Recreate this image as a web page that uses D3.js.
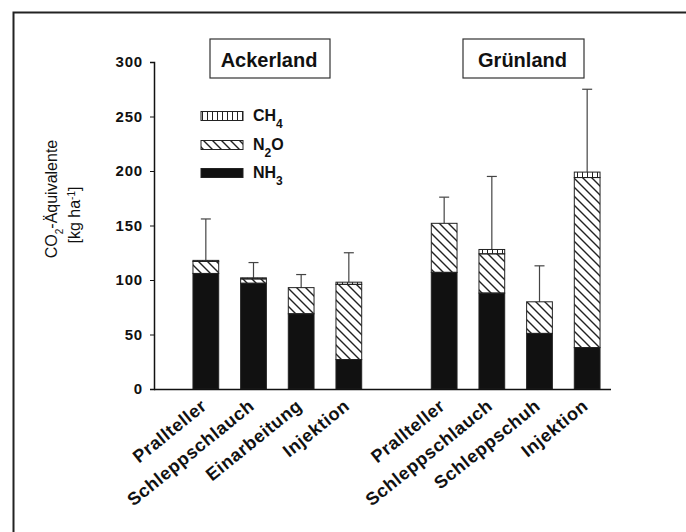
<!DOCTYPE html>
<html>
<head>
    <meta charset="utf-8" />
    <title>CO2-Äquivalente</title>
    <style>
        body { margin: 0; background-color: white; }
        text { font-family: "Liberation Sans", Arial, sans-serif; font-weight: bold; fill: #111; }
    </style>
    <script src="https://cdnjs.cloudflare.com/ajax/libs/d3/7.8.5/d3.min.js"></script>
</head>
<body>
    <script>
        // slot "gap" separates the two groups
        var slots = ['A1', 'A2', 'A3', 'A4', 'gap', 'G1', 'G2', 'G3', 'G4'];
        var keys = ['A1', 'A2', 'A3', 'A4', 'G1', 'G2', 'G3', 'G4'];
        var labels = ['Prallteller', 'Schleppschlauch', 'Einarbeitung', 'Injektion',
                      'Prallteller', 'Schleppschlauch', 'Schleppschuh', 'Injektion'];
        var nh3 = [106, 97, 69, 27, 107, 88, 51, 38];
        var n2o = [11, 4, 24, 69, 45, 36, 29, 156];
        var ch4 = [1, 1, 0, 2, 0, 4, 0, 5];
        var errTop = [156, 116, 105, 125, 176, 195, 113, 275];
        var yTicks = [0, 50, 100, 150, 200, 250, 300];

        var width = 686, height = 532;

        var svg = d3.select("body").append("svg")
            .attr("width", width)
            .attr("height", height);

        var defs = svg.append("defs");
        defs.append("pattern")
            .attr("id", "hatch")
            .attr("patternUnits", "userSpaceOnUse")
            .attr("width", 9).attr("height", 9)
            .append("path")
            .attr("d", "M-2,-2 L11,11 M-2,7 L2,11 M7,-2 L11,2")
            .attr("stroke", "#222").attr("stroke-width", 1.4);
        var cp = defs.append("pattern")
            .attr("id", "vlines")
            .attr("patternUnits", "userSpaceOnUse")
            .attr("width", 5).attr("height", 5);
        cp.append("path").attr("d", "M2.5,0 L2.5,5").attr("stroke", "#222").attr("stroke-width", 1);

        // frame (scanned page shows only top and left edges)
        svg.append("path")
            .attr("d", "M13.5,532 L13.5,12.5 L686,12.5")
            .attr("fill", "none").attr("stroke", "#222").attr("stroke-width", 2);

        var y = d3.scaleLinear().domain([0, 300]).range([389, 62]);
        var x = d3.scaleBand().domain(slots).range([182, 611]).paddingInner(0.46).paddingOuter(0.23);

        var rows = keys.map(function(k, i) {
            return { key: k, label: labels[i], NH3: nh3[i], N2O: n2o[i], CH4: ch4[i], err: errTop[i] };
        });
        var stack = d3.stack().keys(['NH3', 'N2O', 'CH4'])(rows);
        var fills = { NH3: "#111", N2O: "url(#hatch)", CH4: "url(#vlines)" };

        // error bars
        var eb = svg.append("g").attr("stroke", "#444").attr("stroke-width", 1.2);
        rows.forEach(function(d) {
            var cx = x(d.key) + x.bandwidth() / 2;
            var top = d.NH3 + d.N2O + d.CH4;
            eb.append("line").attr("x1", cx).attr("x2", cx).attr("y1", y(top)).attr("y2", y(d.err));
            eb.append("line").attr("x1", cx - 5).attr("x2", cx + 5).attr("y1", y(d.err)).attr("y2", y(d.err));
        });

        stack.forEach(function(layer) {
            svg.append("g").selectAll("rect")
                .data(layer)
                .enter().append("rect")
                .attr("x", function(d) { return x(d.data.key); })
                .attr("width", x.bandwidth())
                .attr("y", function(d) { return y(d[1]); })
                .attr("height", function(d) { return y(d[0]) - y(d[1]); })
                .attr("fill", fills[layer.key])
                .attr("stroke", "#222").attr("stroke-width", 1);
        });

        // y axis
        var yAxis = svg.append("g")
            .attr("transform", "translate(154,0)")
            .call(d3.axisLeft(y).tickValues(yTicks).tickSize(4).tickPadding(7));
        yAxis.select(".domain").attr("stroke", "#111").attr("stroke-width", 1.5);
        yAxis.selectAll(".tick line").attr("stroke", "#111");
        yAxis.selectAll("text").style("font-size", "15px").style("font-weight", "bold")
            .style("letter-spacing", "0.8px")
            .style("font-family", "Liberation Sans, Arial, sans-serif").attr("fill", "#111");

        // x axis
        svg.append("line").attr("x1", 154).attr("x2", 611).attr("y1", 389.5).attr("y2", 389.5)
            .attr("stroke", "#111").attr("stroke-width", 1.5);
        svg.append("g").selectAll("text")
            .data(rows)
            .enter().append("text")
            .attr("transform", function(d) {
                return "translate(" + (x(d.key) + x.bandwidth() / 2 + 2) + ",408) rotate(-39)";
            })
            .attr("text-anchor", "end")
            .style("font-size", "18px")
            .style("letter-spacing", "0.6px")
            .text(function(d) { return d.label; });

        // y axis title
        var yt = svg.append("text")
            .attr("transform", "translate(57,199) rotate(-90)")
            .attr("text-anchor", "middle")
            .style("font-size", "16px").style("font-weight", "normal");
        yt.append("tspan").text("CO");
        yt.append("tspan").attr("baseline-shift", "sub").style("font-size", "10px").text("2");
        yt.append("tspan").text("-Äquivalente");
        var yt2 = svg.append("text")
            .attr("transform", "translate(80,215) rotate(-90)")
            .attr("text-anchor", "middle")
            .style("font-size", "16px").style("font-weight", "normal");
        yt2.append("tspan").text("[kg ha");
        yt2.append("tspan").attr("baseline-shift", "super").style("font-size", "10px").text("-1");
        yt2.append("tspan").text("]");

        // group titles
        [{ t: "Ackerland", x0: 210, x1: 330 }, { t: "Grünland", x0: 463, x1: 584 }].forEach(function(g) {
            svg.append("rect").attr("x", g.x0).attr("y", 39).attr("width", g.x1 - g.x0).attr("height", 39)
                .attr("fill", "white").attr("stroke", "#333").attr("stroke-width", 1.2);
            svg.append("text").attr("x", (g.x0 + g.x1) / 2 - 1).attr("y", 67)
                .attr("text-anchor", "middle").style("font-size", "20px").text(g.t);
        });

        // legend
        var leg = [
            { name: "CH", sub: "4", fill: "url(#vlines)", yy: 116 },
            { name: "N", sub: "2", rest: "O", fill: "url(#hatch)", yy: 145 },
            { name: "NH", sub: "3", fill: "#111", yy: 173 }
        ];
        leg.forEach(function(l) {
            svg.append("rect").attr("x", 201).attr("y", l.yy - 4.5).attr("width", 42).attr("height", 9)
                .attr("fill", l.fill).attr("stroke", "#222").attr("stroke-width", 1);
            var t = svg.append("text").attr("x", 253).attr("y", l.yy + 5).style("font-size", "16px");
            t.append("tspan").text(l.name);
            t.append("tspan").attr("baseline-shift", "sub").style("font-size", "12px").text(l.sub);
            if (l.rest) t.append("tspan").attr("baseline-shift", "0").text(l.rest);
        });
    </script>
</body>
</html>
